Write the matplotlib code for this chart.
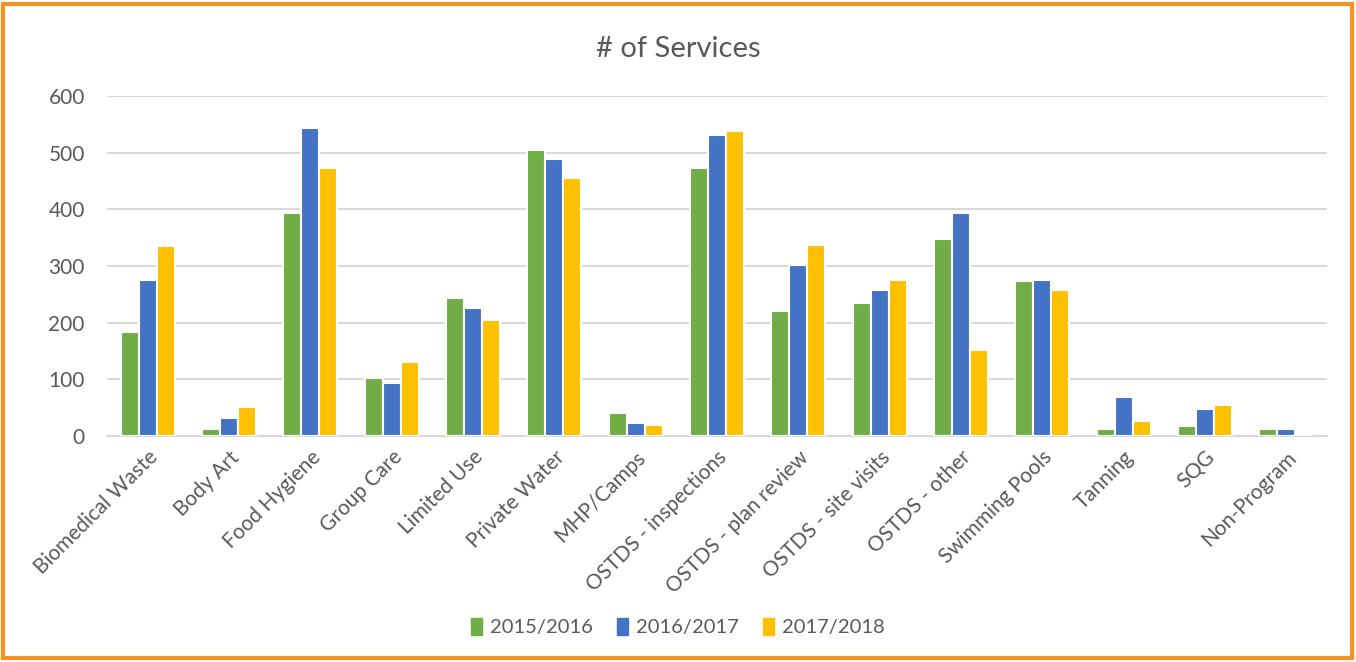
import matplotlib
matplotlib.use("Agg")
import matplotlib.pyplot as plt
import numpy as np
from matplotlib.patches import Rectangle

categories = ["Biomedical Waste", "Body Art", "Food Hygiene", "Group Care", "Limited Use",
              "Private Water", "MHP/Camps", "OSTDS - inspections", "OSTDS - plan review",
              "OSTDS - site visits", "OSTDS - other", "Swimming Pools", "Tanning", "SQG",
              "Non-Program"]
series_names = ["2015/2016", "2016/2017", "2017/2018"]
y2015 = [184, 13, 393, 102, 244, 505, 40, 473, 220, 234, 347, 274, 12, 17, 13]
y2016 = [276, 31, 544, 94, 226, 488, 23, 532, 301, 258, 393, 276, 68, 47, 13]
y2017 = [335, 52, 473, 130, 204, 455, 19, 538, 337, 276, 152, 258, 26, 54, 0]
colors = ["#70AD47", "#4472C4", "#FFC000"]
yticks = [0, 100, 200, 300, 400, 500, 600]

plt.rcParams['font.family'] = ['Lato', 'DejaVu Sans']
text_color = "#595959"

fig = plt.figure(figsize=(13.56, 6.62), dpi=100)
ax = fig.add_axes([107/1356, 1-436/662, (1327-107)/1356, (436-96)/662])

x = np.arange(len(categories))
w = 0.22
for i, (vals, name) in enumerate(zip([y2015, y2016, y2017], series_names)):
    ax.bar(x + (i - 1) * w, vals, width=w, color=colors[i], edgecolor="white",
           linewidth=1.5, label=name, zorder=3)

ax.set_xlim(-0.5, len(categories) - 0.5)
ax.set_ylim(0, 600)
ax.set_yticks(yticks)
ax.set_yticklabels([str(t) for t in yticks], fontsize=15, color=text_color)
ax.set_xticks(x)
ax.set_xticklabels(categories, rotation=45, ha="right", rotation_mode="anchor",
                   fontsize=15, color=text_color)
ax.tick_params(axis="both", length=0)
ax.tick_params(axis="y", pad=16)
ax.tick_params(axis="x", pad=8)
ax.grid(axis="y", color="#D9D9D9", linewidth=1.5, zorder=0)
for s in ["top", "right", "left"]:
    ax.spines[s].set_visible(False)
ax.spines["bottom"].set_color("#D9D9D9")
ax.spines["bottom"].set_linewidth(1.5)

fig.text(0.5, 1-49/662, "# of Services", ha="center", va="center", fontsize=21,
         color=text_color)

handles = [Rectangle((0, 0), 1, 1, color=c) for c in colors]
fig.legend(handles, series_names, loc="center", bbox_to_anchor=(0.5, 1-627/662),
           ncol=3, frameon=False, fontsize=14.5, handlelength=0.55, handleheight=0.9,
           handletextpad=0.4, columnspacing=1.2, labelcolor=text_color)

fig.patches.append(Rectangle((3/1356, 4/662), 1349/1356, 654/662, transform=fig.transFigure,
                             fill=False, edgecolor="#F39325", linewidth=3))

fig.savefig("out.png", dpi=100, facecolor="white")
